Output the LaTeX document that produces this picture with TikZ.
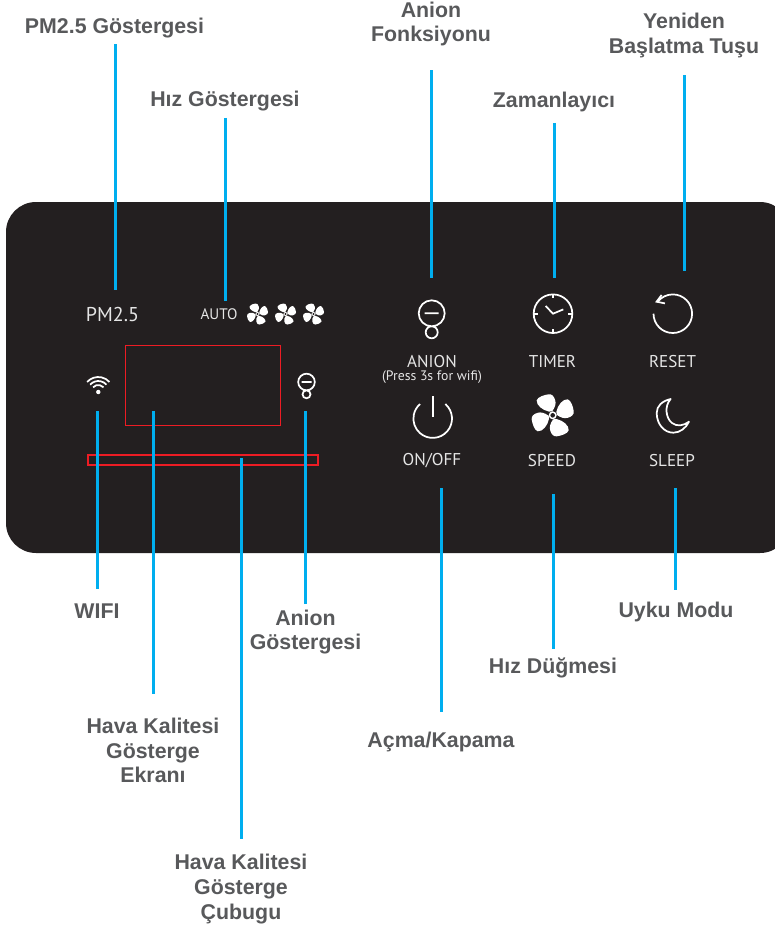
\documentclass[tikz,border=0pt]{standalone}
\usepackage{fontspec}
\setmainfont{Liberation Sans}
\newfontfamily\panelfont{PT Sans}
\definecolor{panelblack}{HTML}{231F20}
\definecolor{leaderblue}{HTML}{00AEEF}
\definecolor{labelgray}{HTML}{58595B}
\definecolor{framered}{HTML}{ED1C24}
\tikzset{
  callout/.style={font=\fontsize{16}{18.4}\selectfont\bfseries, text=labelgray, align=center, inner sep=0pt},
  paneltext/.style={font=\panelfont\fontsize{12.8}{14}\selectfont, text=white!90!black, inner sep=0pt},
  leader/.style={draw=leaderblue, line width=2.1pt},
  icon/.style={draw=white, line width=1.3pt},
  frame/.style={draw=framered, line width=1pt},
  fan/.pic={
    \foreach \r in {0,90,180,270} {
      \fill[white, rotate=\r] (-0.5,-4) .. controls (2.5,-8) and (3.5,-12) .. (2.5,-15)
        .. controls (1.5,-19) and (-1,-21.5) .. (-4,-21)
        .. controls (-8,-20.5) and (-15,-18.5) .. (-16,-15)
        .. controls (-16.5,-10) and (-10,-5) .. (-3.7,-3.7) -- cycle;
    }
    \fill[white] (0,0) circle (4);
    \fill[panelblack] (0,0) circle (2.3);
  }
}
\begin{document}
\begin{tikzpicture}[x=0.75pt,y=-0.75pt]
  \useasboundingbox (0,0) rectangle (775,929);
  \fill[panelblack, rounded corners=22.5pt] (6,202) rectangle (790,553);

  % frames
  \node[frame, minimum width=116.25pt, minimum height=60pt, inner sep=0pt] (screen) at (203,385.5) {};
  \node[frame, minimum width=172.5pt, minimum height=7.5pt, inner sep=0pt] (bar) at (203,460) {};

  % panel texts
  \foreach \n/\x/\y/\txt in {
    anion/432/361.5/ANION,
    timer/552.5/361.5/TIMER,
    reset/672.5/361.5/RESET,
    onoff/432/461/{ON/OFF},
    speed/552/460.5/SPEED,
    sleep/672/460.5/SLEEP%
  } { \node[paneltext] (\n) at (\x,\y) {\txt}; }
  \node[paneltext, font=\panelfont\fontsize{15}{17}\selectfont] (pm) at (112.5,314) {PM2.5};
  \node[paneltext, font=\panelfont\fontsize{11.4}{13}\selectfont] (auto) at (219,314) {AUTO};
  \node[paneltext, font=\panelfont\fontsize{10.3}{12}\selectfont] (press) at (432,377) {(Press 3s for wifi)};

  % fans
  \pic[scale=0.5] at (257.5,314) {fan};
  \pic[scale=0.5] at (285.5,314) {fan};
  \pic[scale=0.5] at (313.5,314) {fan};
  \pic at (552.7,415.3) {fan};

  % wifi
  \fill[white] (98.3,392) circle (2.2);
  \draw[icon] (98.3,392) ++(222:7) arc[start angle=222, end angle=318, radius=7];
  \draw[icon] (98.3,392) ++(222:11) arc[start angle=222, end angle=318, radius=11];
  \draw[icon] (98.3,392) ++(222:15) arc[start angle=222, end angle=318, radius=15];

  % anion
  \draw[icon] (431.7,313.3) circle (13) (431.7,332.3) circle (6) (424.7,313.3) -- (438.7,313.3);
  \draw[icon] (306.5,382) circle (8.3) (306.5,394.3) circle (4) (301.5,382) -- (311.5,382);

  % timer
  \draw[icon] (553,313.7) circle (19.3);
  \draw[icon] (553,294.4) -- (553,298.4) (553,333) -- (553,329) (533.7,313.7) -- (537.7,313.7) (572.3,313.7) -- (568.3,313.7);
  \draw[icon] (545.7,306) -- (553,313.7) -- (563.3,309.4);

  % reset
  \draw[icon] (672.8,313.7) ++(180:19.3) arc[start angle=180, end angle=-143, radius=19.3];
  \draw[icon] (661.6,295) -- (656.6,301.7) -- (665,303.4);

  % power
  \draw[icon] (432.7,418.6) ++(-49:19.3) arc[start angle=-49, end angle=229, radius=19.3];
  \draw[icon] (432.7,396) -- (432.7,417);

  % moon
  \draw[icon, line join=round] (670.7,399) .. controls (662,401) and (656.7,406) .. (656.7,413)
    .. controls (656.7,424) and (664,432.7) .. (673.3,432.7)
    .. controls (680,432.7) and (686,428) .. (689,421.7)
    .. controls (684,425.5) and (677,427) .. (672,423)
    .. controls (666,418.5) and (664,406) .. (670.7,399) -- cycle;

  % labels
  \foreach \n/\x/\y/\txt in {
    % above
    lblpm/114.5/28/PM2.5 Göstergesi,
    lblspeed/225/101/Hız Göstergesi,
    lblanion/431/24/{Anion\\Fonksiyonu},
    lbltimer/554/102/Zamanlayıcı,
    lblreset/684/35.5/{Yeniden\\Başlatma Tuşu},
    % below
    lblwifi/97/611/WIFI,
    lblaniong/305.5/632/{Anion\\Göstergesi},
    lblscreen/153/750.5/{Hava Kalitesi\\Gösterge\\Ekranı},
    lblbar/241/889/{Hava Kalitesi\\Gösterge\\Çubugu},
    lblonoff/441/742/{Açma/Kapama},
    lblfan/553/668/Hız Düğmesi,
    lblsleep/676/612/Uyku Modu%
  } { \node[callout] (\n) at (\x,\y) {\txt}; }

  % free ends
  \foreach \n/\x/\y in {
    endpm/115.5/290,
    endspeed/225.5/301,
    endanion/431.5/278,
    endtimer/554.5/278,
    endreset/684.5/271,
    endwifi/97.5/411,
    endaniong/305.5/411,
    endscreen/153.5/411,
    endbar/241.5/458,
    endonoff/441.5/488,
    endfan/553.5/494,
    endsleep/675.5/488%
  } { \coordinate (\n) at (\x,\y); }

  % connections
  \foreach \a/\b/\g in {
    lblpm/endpm/4.5pt,
    lblspeed/endspeed/5pt,
    lblanion/endanion/17.75pt,
    lbltimer/endtimer/8pt,
    lblreset/endreset/13pt%
  } { \draw[leader, shorten <=\g] (\a.south -| \b) -- (\b); }
  \foreach \a/\b/\g in {
    lblwifi/endwifi/11pt,
    lblaniong/endaniong/4pt,
    lblscreen/endscreen/18pt,
    lblbar/endbar/11.5pt,
    lblonoff/endonoff/15pt,
    lblfan/endfan/6.5pt,
    lblsleep/endsleep/9pt%
  } { \draw[leader, shorten <=\g] (\a.north -| \b) -- (\b); }
\end{tikzpicture}
\end{document}
